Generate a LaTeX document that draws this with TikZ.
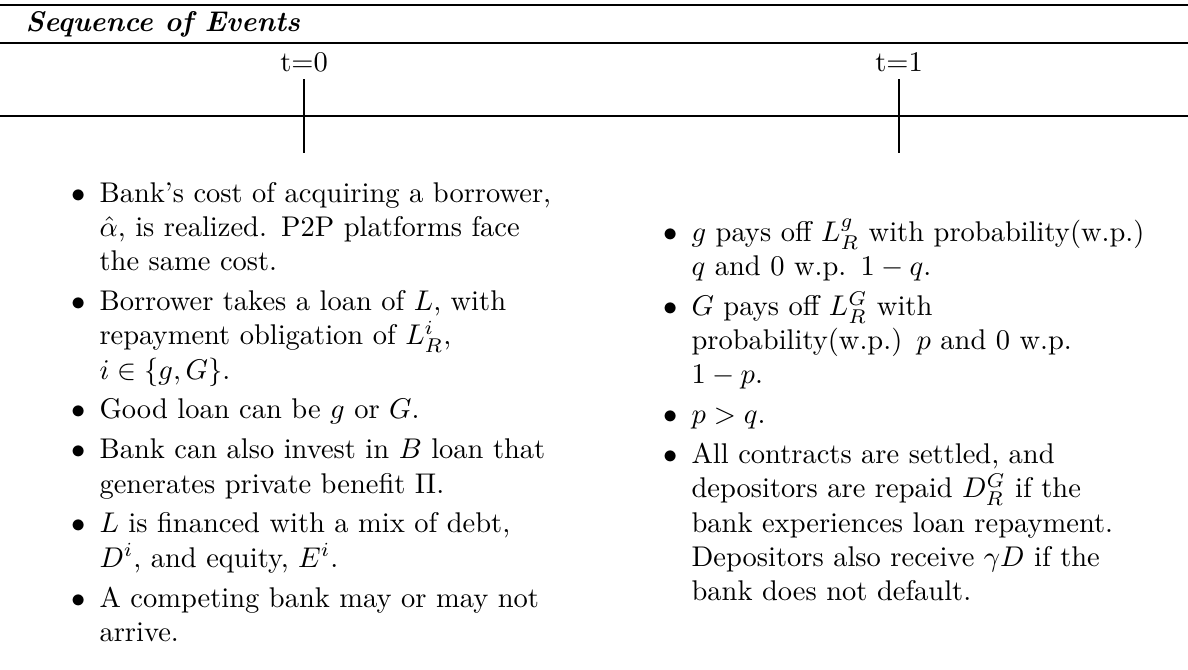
\documentclass[tikz,border=0pt]{standalone}
\newcommand\bul{\leavevmode\llap{$\bullet$\hspace{5pt}}}
\begin{document}
\begin{tikzpicture}[x=0.35088pt, y=-0.35088pt,
  heavyrule/.style={line width=0.8pt},
  lightrule/.style={line width=0.5pt},
  axisline/.style={line width=0.6pt},
  tickline/.style={line width=0.4pt},
  tlabel/.style={anchor=base, inner sep=0pt, font=\fontsize{10}{12}\selectfont},
  col/.style={anchor=north west, inner sep=0pt, text width=175pt, align=left,
              font=\fontsize{10}{12}\selectfont}]
\useasboundingbox (0,0) rectangle (1188,669);

% table rules and heading
\coordinate (topL) at (0,5);     \coordinate (topR) at (1188,5);
\coordinate (midL) at (0,43);    \coordinate (midR) at (1188,43);
\draw[heavyrule] (topL) -- (topR);
\draw[lightrule] (midL) -- (midR);
\node[anchor=base west, inner sep=0pt] (title) at (25,31) {\textbf{\textit{Sequence of Events}}};

% timeline
\coordinate (axL) at (0,116);    \coordinate (axR) at (1188,116);
\draw[axisline] (axL) -- (axR);
\node[tlabel] (t0) at (304,71) {t=0};
\node[tlabel] (t1) at (899,71) {t=1};
\coordinate (t0top) at (304,79); \coordinate (t0bot) at (304,153);
\coordinate (t1top) at (899,79); \coordinate (t1bot) at (899,153);
\draw[tickline] (t0top) -- (t0bot);
\draw[tickline] (t1top) -- (t1bot);

% events at t=0
\node[col] (events0) at (99,177.8) {\noindent\strut\bul Bank's cost of acquiring a borrower,\\
$\hat{\alpha}$, is realized. P2P platforms face\\
the same cost.\\[2pt]
\bul Borrower takes a loan of $L$, with\\
repayment obligation of $L^i_R$,\\
$i\in\{g,G\}$.\\[2pt]
\bul Good loan can be $g$ or $G$.\\[2pt]
\bul Bank can also invest in $B$ loan that\\
generates private benefit $\Pi$.\\[2pt]
\bul $L$ is financed with a mix of debt,\\
$D^i$, and equity, $E^i$.\\[2pt]
\bul A competing bank may or may not\\
arrive.};

% events at t=1
\node[col] (events1) at (691,216.8) {\noindent\strut\bul $g$ pays off $L^g_R$ with probability(w.p.)\\
$q$ and 0 w.p. $1-q$.\\[2pt]
\bul $G$ pays off $L^G_R$ with\\
probability(w.p.) $p$ and 0 w.p.\\
$1-p$.\\[2pt]
\bul $p>q$.\\[2pt]
\bul All contracts are settled, and\\
depositors are repaid $D^G_R$ if the\\
bank experiences loan repayment.\\
Depositors also receive $\gamma D$ if the\\
bank does not default.};
\end{tikzpicture}
\end{document}
